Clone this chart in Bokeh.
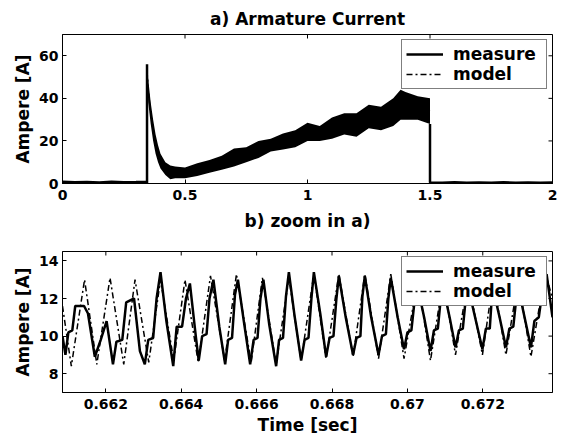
import math
from bokeh.plotting import figure
from bokeh.layouts import column
from bokeh.models import Title, Legend, LegendItem, FixedTicker, Range1d
from bokeh.embed import file_html
from bokeh.resources import INLINE

FONT = "DejaVu Sans"

# ---------------- a) Armature Current ----------------
a_title = "a) Armature Current"
a_xrange = (0, 2)
a_yrange = (0, 70)
a_xticks = [0, 0.5, 1, 1.5, 2]
a_xlabels = ["0", "0.5", "1", "1.5", "2"]
a_yticks = [0, 20, 40, 60]
a_ylabels = ["0", "20", "40", "60"]

# baseline before switch-on, ending with the start-up spike
t_pre = [0.0, 0.05, 0.10, 0.15, 0.20, 0.25, 0.30, 0.343, 0.345, 0.345]
i_pre = [0.8, 0.6, 0.7, 0.5, 0.8, 0.6, 0.7, 0.8, 0.0, 56.0]

# envelope of the ripple band (measure + model)
t_env = [0.345, 0.35, 0.36, 0.37, 0.38, 0.39, 0.40, 0.42, 0.44, 0.46, 0.48, 0.50,
         0.55, 0.60, 0.65, 0.70, 0.75, 0.80, 0.85, 0.90, 0.95, 1.00, 1.05, 1.10,
         1.15, 1.20, 1.25, 1.30, 1.35, 1.38, 1.40, 1.45, 1.50]
i_upper = [56, 49, 38, 30, 23, 18, 14, 10, 8.5, 8, 7.8, 7.5,
           9.5, 11, 13, 16.5, 17, 20, 21, 23.5, 25, 28.5, 27, 31,
           33, 33, 37, 36, 40, 44, 43, 41, 40]
i_lower = [50, 38, 28, 20, 14, 10, 7, 4, 2, 2.5, 2.5, 2.5,
           3.5, 5, 6.5, 8, 10, 12, 15, 16, 17, 20, 20, 21,
           23, 22, 26, 25, 27, 30, 30, 30, 28]

# model inside the band
i_model_a = [53, 44, 33, 25, 18.5, 14, 10.5, 7, 5.2, 5.2, 5.1, 5.0,
             6.5, 8, 9.8, 12, 13.5, 16, 18, 19.8, 21, 24, 23.5, 26,
             28, 27.5, 31.5, 30.5, 33.5, 37, 36.5, 35.5, 34]

# after switch-off
t_post = [1.5, 1.5, 1.55, 1.60, 1.65, 1.70, 1.75, 1.80, 1.85, 1.90, 1.95, 2.0]
i_post = [28.0, 0.5, 0.4, 0.6, 0.4, 0.5, 0.4, 0.6, 0.4, 0.5, 0.4, 0.5]

# ---------------- b) zoom in a) ----------------
b_title = "b) zoom in a)"
b_xrange = (0.66085, 0.67385)
b_yrange = (7, 14.5)
b_xticks = [0.662, 0.664, 0.666, 0.668, 0.670, 0.672]
b_xlabels = ["0.662", "0.664", "0.666", "0.668", "0.67", "0.672"]
b_yticks = [8, 10, 12, 14]
b_ylabels = ["8", "10", "12", "14"]

t_model_b = [0.660850, 0.661084, 0.661435, 0.661760, 0.662111, 0.662475, 0.662774,
             0.663138, 0.663450, 0.663801, 0.664100, 0.664451, 0.664776, 0.665153,
             0.665465, 0.665855, 0.666154, 0.666518, 0.666856, 0.667181, 0.667519,
             0.667844, 0.668182, 0.668559, 0.668871, 0.669235, 0.669560, 0.669911,
             0.670275, 0.670613, 0.670951, 0.671276, 0.671614, 0.671991, 0.672277,
             0.672615, 0.672940, 0.673278, 0.673655, 0.673850]
i_model_b = [11.6, 8.4, 13.0, 8.5, 13.1, 8.5, 13.0,
             8.6, 13.0, 8.7, 13.0, 8.6, 13.2, 8.7,
             13.3, 8.6, 13.1, 8.5, 13.1, 8.7, 13.3,
             8.8, 13.3, 8.9, 13.3, 8.8, 13.3, 8.8,
             13.0, 8.7, 13.0, 9.0, 13.0, 9.0, 13.0,
             9.0, 13.0, 8.9, 13.4, 12.0]

t_meas_b = [0.660850, 0.660928, 0.661006, 0.661110, 0.661188, 0.661422, 0.661526,
            0.661708, 0.661864, 0.662020, 0.662189, 0.662280, 0.662436, 0.662540,
            0.662748, 0.662904, 0.663034, 0.663125, 0.663255, 0.663346, 0.663450,
            0.663606, 0.663788, 0.663879, 0.664022, 0.664126, 0.664230, 0.664386,
            0.664464, 0.664555, 0.664672, 0.664750, 0.664854, 0.665010, 0.665166,
            0.665244, 0.665348, 0.665426, 0.665504, 0.665660, 0.665829, 0.665920,
            0.666024, 0.666102, 0.666180, 0.666336, 0.666518, 0.666596, 0.666700,
            0.666778, 0.666856, 0.667012, 0.667181, 0.667272, 0.667376, 0.667454,
            0.667519, 0.667688, 0.667844, 0.667935, 0.668039, 0.668117, 0.668182,
            0.668364, 0.668559, 0.668650, 0.668754, 0.668806, 0.668871, 0.669040,
            0.669235, 0.669326, 0.669430, 0.669495, 0.669560, 0.669742, 0.669911,
            0.670002, 0.670106, 0.670197, 0.670275, 0.670444, 0.670613, 0.670704,
            0.670808, 0.670886, 0.670951, 0.671120, 0.671276, 0.671367, 0.671471,
            0.671549, 0.671614, 0.671796, 0.671991, 0.672082, 0.672186, 0.672238,
            0.672277, 0.672446, 0.672615, 0.672706, 0.672810, 0.672888, 0.672940,
            0.673109, 0.673278, 0.673369, 0.673486, 0.673590, 0.673694, 0.673850]
i_meas_b = [10.0, 9.0, 10.2, 10.3, 11.6, 11.6, 11.2,
            8.9, 9.8, 10.8, 8.5, 9.7, 9.8, 11.8,
            12.0, 9.2, 8.5, 9.8, 9.9, 12.0, 13.4,
            10.8, 8.4, 10.5, 10.5, 12.0, 12.8, 10.0,
            8.7, 10.0, 10.1, 12.0, 13.0, 10.5, 8.5,
            9.8, 9.9, 12.2, 13.0, 10.8, 8.5, 9.8,
            9.9, 12.0, 13.0, 10.6, 8.4, 9.8, 9.9,
            12.1, 13.4, 11.0, 8.7, 9.8, 9.9, 12.0,
            13.4, 11.2, 8.9, 9.9, 10.0, 12.0, 13.2,
            11.0, 9.0, 9.9, 10.0, 12.1, 13.2, 11.0,
            9.0, 10.0, 10.1, 12.0, 13.1, 11.0, 9.3,
            10.2, 10.3, 12.0, 12.6, 11.0, 9.2, 10.3,
            10.4, 12.0, 12.6, 11.0, 9.4, 10.3, 10.4,
            12.0, 12.6, 11.0, 9.3, 10.4, 10.4, 12.0,
            12.5, 11.0, 9.4, 10.4, 10.5, 12.0, 12.6,
            11.0, 9.4, 10.8, 11.0, 12.5, 13.3, 11.0]

DASHDOT = "6 3 2 3"


def style(p, xr, yr, xticks, xlabels, yticks, ylabels, ylabel, xlabel=None):
    p.xgrid.visible = False
    p.ygrid.visible = False
    p.outline_line_color = "black"
    p.outline_line_width = 1
    p.background_fill_color = "white"
    p.border_fill_color = "white"
    for ax, ticks, labels in ((p.xaxis[0], xticks, xlabels), (p.yaxis[0], yticks, ylabels)):
        ax.ticker = FixedTicker(ticks=ticks)
        ax.major_label_overrides = dict(zip(ticks, labels))
        ax.major_tick_in = 4
        ax.major_tick_out = 0
        ax.minor_tick_line_color = None
        ax.axis_line_color = "black"
        ax.major_label_text_font = FONT
        ax.major_label_text_font_style = "bold"
        ax.major_label_text_font_size = "14px"
        ax.major_label_text_color = "black"
        ax.axis_label_text_font = FONT
        ax.axis_label_text_font_style = "bold"
        ax.axis_label_text_font_size = "17px"
        ax.axis_label_text_color = "black"
    p.yaxis[0].axis_label = ylabel
    p.yaxis[0].major_label_standoff = 4
    p.yaxis[0].axis_label_standoff = 3
    p.xaxis[0].major_label_standoff = 6
    if xlabel:
        p.xaxis[0].axis_label = xlabel
        p.xaxis[0].axis_label_standoff = 3
    # mirrored tick marks on the top and right edges (clipped to the frame)
    p.scatter(x=xticks, y=[yr[1]] * len(xticks), marker="dash", angle=math.pi / 2,
              size=8, line_color="black", line_width=1)
    p.scatter(x=[xr[1]] * len(yticks), y=yticks, marker="dash", angle=0,
              size=8, line_color="black", line_width=1)


def make_title(text, standoff):
    return Title(text=text, align="center", text_font=FONT, text_font_style="bold",
                 text_font_size="17px", text_color="black", standoff=standoff)


def make_legend(p, r_meas, r_model):
    lg = Legend(items=[LegendItem(label="measure", renderers=[r_meas]),
                       LegendItem(label="model", renderers=[r_model])],
                location="top_right")
    lg.border_line_color = "black"
    lg.border_line_width = 1
    lg.background_fill_color = "white"
    lg.background_fill_alpha = 1
    lg.label_text_font = FONT
    lg.label_text_font_style = "bold"
    lg.label_text_font_size = "17px"
    lg.label_text_color = "black"
    lg.glyph_width = 37
    lg.glyph_height = 18
    lg.label_height = 18
    lg.label_width = 89
    lg.padding = 4
    lg.spacing = 0
    lg.margin = 5
    lg.label_standoff = 10
    p.add_layout(lg)


# ---------- figure a ----------
p1 = figure(width=561, height=238, x_range=Range1d(*a_xrange), y_range=Range1d(*a_yrange),
            output_backend="svg", toolbar_location=None,
            min_border_left=62, min_border_right=9, min_border_top=33, min_border_bottom=55)
p1.title = make_title(a_title, 12)
style(p1, a_xrange, a_yrange, a_xticks, a_xlabels, a_yticks, a_ylabels, "Ampere [A]")
# heading of the lower panel, placed under the upper panel's axis
p1.add_layout(make_title(b_title, 12), "below")

p1.varea(x=t_env, y1=i_lower, y2=i_upper, fill_color="black")
r_meas_a = p1.line(t_pre, i_pre, line_color="black", line_width=2.5)
p1.line(t_post, i_post, line_color="black", line_width=2.5)
r_model_a = p1.line(t_env, i_model_a, line_color="black", line_width=1.5, line_dash=DASHDOT)
make_legend(p1, r_meas_a, r_model_a)

# ---------- figure b ----------
p2 = figure(width=561, height=200, x_range=Range1d(*b_xrange), y_range=Range1d(*b_yrange),
            output_backend="svg", toolbar_location=None,
            min_border_left=62, min_border_right=9, min_border_top=13, min_border_bottom=46)
style(p2, b_xrange, b_yrange, b_xticks, b_xlabels, b_yticks, b_ylabels, "Ampere [A]", "Time [sec]")

r_meas_b = p2.line(t_meas_b, i_meas_b, line_color="black", line_width=2.5)
r_model_b = p2.line(t_model_b, i_model_b, line_color="black", line_width=1.5, line_dash=DASHDOT)
make_legend(p2, r_meas_b, r_model_b)

layout = column(p1, p2, spacing=0)
open("out.html", "w").write(file_html(layout, INLINE))
